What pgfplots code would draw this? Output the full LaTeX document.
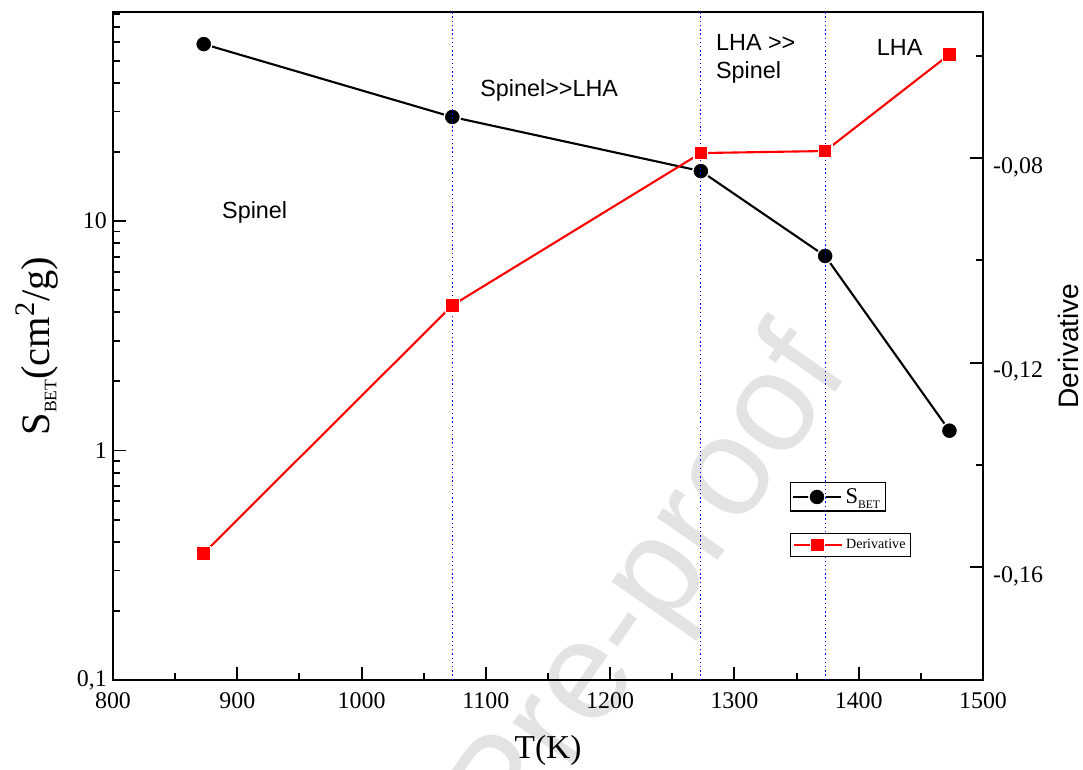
\documentclass[border=0pt]{standalone}
\usepackage{pgfplots}
\pgfplotsset{compat=1.18}
\usepackage{fontspec}
\setmainfont{Liberation Serif}
\newfontfamily\arial{Liberation Sans}

\pgfplotsset{
  common/.style={
    scale only axis, width=17.4cm, height=13.36cm,
    xmin=800, xmax=1500,
    tick align=inside,
    major tick length=0.26cm, minor tick length=0.14cm,
    axis line style={line width=1.4pt},
    every tick/.style={black, line width=1.1pt},
    tick label style={font=\fontsize{13.6}{14}\selectfont},
    /pgf/number format/assume math mode=true,
    /pgf/number format/1000 sep={},
    legend image code/.code={\draw[mark repeat=2,mark phase=2]
      plot coordinates {(0cm,0cm) (0.48cm,0cm) (0.96cm,0cm)};},
  },
}

\begin{document}
\begin{tikzpicture}
\path[use as bounding box] (-2.26,-1.78) rectangle (19.4,13.6);
% watermark
\node[rotate=55, anchor=base, text=black!11,
      font=\arial\fontsize{80}{80}\selectfont] at (11.4,1.4) {Pre-proof};

\begin{axis}[common,
    ymode=log, ymin=0.1, ymax=81.4,
    xtick={800,900,...,1500}, minor x tick num=1,
    ytick={0.1,1,10}, yticklabels={{0,1},1,10},
    minor ytick={0.2,0.3,0.4,0.5,0.6,0.7,0.8,0.9,2,3,4,5,6,7,8,9,20,30,40,50,60,70,80},
    xtick pos=bottom, ytick pos=left,
    xticklabel style={yshift=-0.12cm},
    every axis x label/.style={at={(rel axis cs:0.5,0)}, yshift=-1.4cm, anchor=center,
      font=\fontsize{19}{19}\selectfont},
    every axis y label/.style={at={(rel axis cs:0,0.5)}, xshift=-1.52cm, rotate=90, anchor=center,
      font=\fontsize{23}{23}\selectfont},
    xlabel={T(K)},
    ylabel={S\raisebox{-0.35ex}{\fontsize{10}{10}\selectfont BET}(cm\textsuperscript{2}/g)},
    legend style={at={(rel axis cs:0.833,0.274)}, anchor=center, draw=black,
      line width=0.6pt, inner sep=1pt, font=\fontsize{12.8}{13}\selectfont},
    legend cell align=left,
  ]
  \addplot[black, line width=1.2pt, mark=*, mark size=4.6pt,
    mark options={fill=black, draw=white, line width=0.8pt}]
    coordinates {(873,59.0) (1073,28.4) (1273,16.5) (1373,7.04) (1473,1.22)};
  \addlegendentry{S\raisebox{-0.55ex}{\fontsize{6.6}{7}\selectfont BET}}

  \node[font=\arial\fontsize{13.3}{16}\selectfont] at (axis cs:914,10.9) {Spinel};
  \node[font=\arial\fontsize{13.3}{16}\selectfont] at (axis cs:1151,37.2) {Spinel>>LHA};
  \node[font=\arial\fontsize{13.3}{16}\selectfont, align=left, anchor=west, inner sep=0pt]
    at (axis cs:1285,50.8) {LHA >>\\Spinel};
  \node[font=\arial\fontsize{13.3}{16}\selectfont] at (axis cs:1433,56.8) {LHA};
\end{axis}

\begin{axis}[common,
    ymin=-0.1821, ymax=-0.0514,
    axis y line*=right, axis x line=none,
    ytick={-0.16,-0.12,-0.08}, yticklabels={{-0,16},{-0,12},{-0,08}},
    minor ytick={-0.14,-0.10,-0.06},
    yticklabel style={xshift=0.08cm, yshift=-0.18cm},
    every axis y label/.style={at={(rel axis cs:1,0.5)}, xshift=1.7cm, rotate=90, anchor=center,
      font=\arial\fontsize{16}{16}\selectfont},
    ylabel={Derivative},
    legend style={at={(rel axis cs:0.848,0.202)}, anchor=center, draw=black,
      line width=0.6pt, inner sep=1pt, font=\fontsize{8}{9}\selectfont},
    legend cell align=left,
  ]
  \addplot[red, line width=1.2pt, mark=square*, mark size=3.9pt,
    mark options={fill=red, draw=white, line width=0.6pt}]
    coordinates {(873,-0.1573) (1073,-0.1088) (1273,-0.0790) (1373,-0.0786) (1473,-0.0597)};
  \addlegendentry{Derivative}
  % phase boundaries
  \addplot[blue, line width=0.6pt, dash pattern=on 0.8pt off 1.6pt, forget plot]
    coordinates {(1073,-0.1821) (1073,-0.0514)};
  \addplot[blue, line width=0.6pt, dash pattern=on 0.8pt off 1.6pt, forget plot]
    coordinates {(1273,-0.1821) (1273,-0.0514)};
  \addplot[blue, line width=0.6pt, dash pattern=on 0.8pt off 1.6pt, forget plot]
    coordinates {(1373,-0.1821) (1373,-0.0514)};
\end{axis}
\end{tikzpicture}
\end{document}
